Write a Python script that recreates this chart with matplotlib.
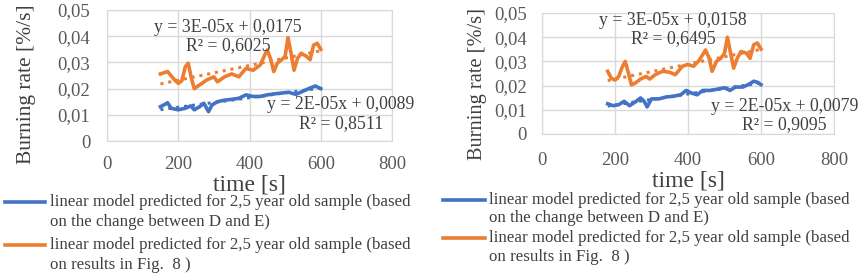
import numpy as np
import matplotlib.pyplot as plt
from matplotlib.lines import Line2D
from matplotlib.ticker import FuncFormatter

plt.rcParams['font.family'] = ['Liberation Serif', 'DejaVu Serif']

# left panel data
x_or_l = [150, 170, 190, 200, 210, 220, 228, 238, 245, 260, 280, 300, 310, 330, 350, 370, 390, 410,
          430, 445, 450, 460, 468, 478, 490, 500, 508, 515, 525, 535, 545, 560, 570, 580, 590, 600]
y_or_l = [0.0256, 0.0265, 0.0233, 0.022, 0.023, 0.0284, 0.0297, 0.0233, 0.020, 0.0214, 0.0233, 0.0245,
          0.0226, 0.0245, 0.0256, 0.0245, 0.0277, 0.027, 0.029, 0.0335, 0.0347, 0.031, 0.0265, 0.0297,
          0.031, 0.0323, 0.0395, 0.0347, 0.027, 0.0316, 0.0335, 0.0323, 0.031, 0.0366, 0.0373, 0.035]
x_bl_l = [150, 160, 170, 180, 200, 220, 235, 245, 260, 272, 285, 295, 310, 330, 350, 370, 390, 410,
          430, 450, 470, 490, 510, 530, 550, 570, 585, 600]
y_bl_l = [0.0131, 0.0138, 0.0146, 0.0125, 0.0119, 0.0125, 0.0134, 0.0119, 0.0131, 0.0144, 0.0112,
          0.0138, 0.015, 0.0156, 0.0159, 0.0163, 0.0176, 0.017, 0.017, 0.0176, 0.018, 0.0183, 0.0186,
          0.0178, 0.019, 0.0202, 0.021, 0.020]

# right panel data
x_or_r = [180, 190, 200, 210, 220, 228, 238, 245, 255, 270, 285, 295, 310, 330, 350, 365, 385, 400,
          415, 430, 448, 458, 466, 478, 490, 500, 508, 515, 525, 535, 545, 560, 570, 580, 590, 600]
y_or_r = [0.0259, 0.023, 0.0223, 0.0237, 0.0278, 0.030, 0.0245, 0.0203, 0.021, 0.0227, 0.0238, 0.0227,
          0.0245, 0.0259, 0.0255, 0.0245, 0.028, 0.0287, 0.028, 0.0303, 0.0347, 0.0313, 0.0259, 0.030,
          0.0313, 0.0334, 0.040, 0.0347, 0.0272, 0.0313, 0.0341, 0.0334, 0.0313, 0.0369, 0.0376, 0.0351]
x_bl_r = [180, 195, 210, 225, 240, 258, 270, 280, 288, 300, 320, 340, 360, 380, 395, 410, 425, 440,
          460, 480, 500, 515, 530, 550, 565, 580, 590, 600]
y_bl_r = [0.0125, 0.0117, 0.0121, 0.0135, 0.0117, 0.0135, 0.0149, 0.0135, 0.0112, 0.0145, 0.0145,
          0.0153, 0.0156, 0.0162, 0.018, 0.0169, 0.0162, 0.018, 0.018, 0.0185, 0.0191, 0.018, 0.0194,
          0.0194, 0.0204, 0.0218, 0.0214, 0.0204]

eq_l = ['y = 3E-05x + 0,0175\nR² = 0,6025', 'y = 2E-05x + 0,0089\nR² = 0,8511']
eq_r = ['y = 3E-05x + 0,0158\nR² = 0,6495', 'y = 2E-05x + 0,0079\nR² = 0,9095']
labels = ['linear model predicted for 2,5 year old sample (based\non the change between D and E)',
          'linear model predicted for 2,5 year old sample (based\non results in Fig.  8 )']

blue = '#4472c4'
orange = '#ed7d31'
W, H = 858, 274

fig = plt.figure(figsize=(8.58, 2.74), dpi=100)
ax1 = fig.add_axes([107/W, 133/H, 285/W, 131/H])
ax2 = fig.add_axes([542/W, 140/H, 292/W, 121/H])


def fmt(v, pos):
    if abs(v) < 1e-9:
        return '0'
    return ('%.2f' % v).replace('.', ',')


def draw(ax, xo, yo, xb, yb, eqs, eq_pos, ylab, ypad, xpad, yl_size):
    lb, = ax.plot(xb, yb, color=blue, lw=2.6, solid_joinstyle='round')
    lo, = ax.plot(xo, yo, color=orange, lw=2.6, solid_joinstyle='round')
    for xs, ys, c in [(xo, yo, orange), (xb, yb, blue)]:
        k, b = np.polyfit(xs, ys, 1)
        xx = np.array([xs[0], xs[-1]])
        ax.plot(xx, k * xx + b, color=c, lw=2.2, ls=(0, (1, 1.6)))
    ax.set_xlim(0, 800)
    ax.set_ylim(0, 0.05)
    ax.set_xticks([0, 200, 400, 600, 800])
    ax.set_yticks([0, 0.01, 0.02, 0.03, 0.04, 0.05])
    ax.yaxis.set_major_formatter(FuncFormatter(fmt))
    ax.grid(True, color='#d9d9d9', lw=1)
    ax.set_axisbelow(True)
    for s in ax.spines.values():
        s.set_color('#d9d9d9')
    ax.tick_params(length=0, labelsize=13.5, colors='#595959')
    ax.tick_params(axis='y', pad=ypad)
    ax.tick_params(axis='x', pad=xpad)
    ax.set_xlabel('time [s]', fontsize=17, color='#404040', labelpad=1)
    ax.set_ylabel('Burning rate [%/s]', fontsize=yl_size, color='#404040')
    ax.yaxis.set_label_coords(*ylab)
    for t, (px, py) in zip(eqs, eq_pos):
        ax.text(px, py, t, ha='center', va='center', fontsize=12.8, color='#404040',
                linespacing=1.1)
    return lb, lo


def legend(x0, x1, xt, rows, dy):
    for lab, c, y in zip(labels, [blue, orange], rows):
        fig.add_artist(Line2D([x0/W, x1/W], [1 - y/H, 1 - y/H], color=c, lw=2.6,
                              transform=fig.transFigure))
        for i, line in enumerate(lab.split('\n')):
            fig.text(xt/W, 1 - (y + i*dy)/H, line, ha='left', va='center',
                     fontsize=12.2, color='#404040')


draw(ax1, x_or_l, y_or_l, x_bl_l, y_bl_l, eq_l, [(340, 0.0400), (657, 0.0103)],
     (-0.25, 0.435), 12, 11, 15.5)
draw(ax2, x_or_r, y_or_r, x_bl_r, y_bl_r, eq_r, [(359, 0.0432), (664, 0.0077)],
     (-0.19, 0.41), 11, 13, 14.7)

legend(5, 45, 50, [202, 245], 20)
legend(443, 485, 489, [200, 238.3], 18.3)

fig.savefig('out.png', dpi=100)
